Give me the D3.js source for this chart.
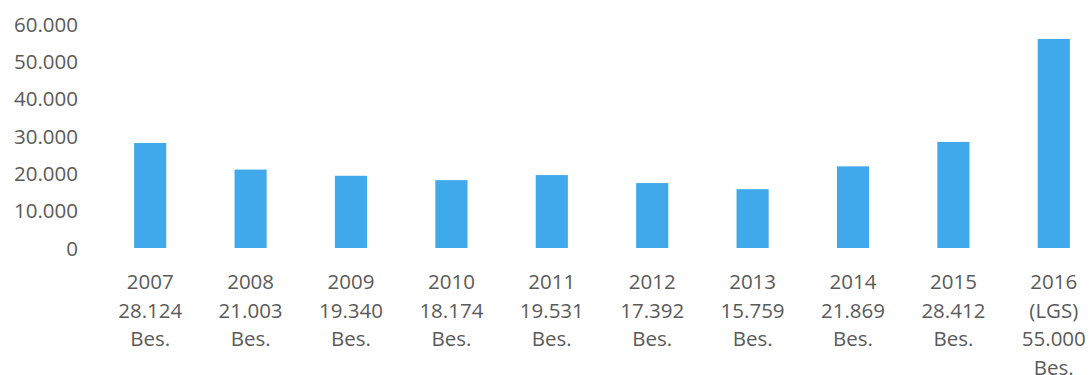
<!DOCTYPE html>
<html>
<head>
<meta charset="utf-8">
<script src="https://cdn.jsdelivr.net/npm/d3@7"></script>
<style>
  html, body { margin: 0; padding: 0; background: #fff; }
  svg text { font-family: 'Open Sans', sans-serif; fill: #5a5a5a; }
</style>
</head>
<body>
<svg id="chart" width="1090" height="375"></svg>
<script>
'use strict';

// chart data
const years = ['2007', '2008', '2009', '2010', '2011', '2012', '2013', '2014', '2015', '2016'];
const categoryLines = [
  ['2007', '28.124', 'Bes.'],
  ['2008', '21.003', 'Bes.'],
  ['2009', '19.340', 'Bes.'],
  ['2010', '18.174', 'Bes.'],
  ['2011', '19.531', 'Bes.'],
  ['2012', '17.392', 'Bes.'],
  ['2013', '15.759', 'Bes.'],
  ['2014', '21.869', 'Bes.'],
  ['2015', '28.412', 'Bes.'],
  ['2016', '(LGS)', '55.000', 'Bes.'],
];
// bar heights as drawn (the 2016 bar stands a bit above its 55.000 label)
const participants = [28124, 21003, 19340, 18174, 19531, 17392, 15759, 21869, 28412, 56000];
const yTicks = [0, 10000, 20000, 30000, 40000, 50000, 60000];

const BAR_COLOR = '#40a9eb';
const FONT_SIZE = 20.5;
const LINE_STEP = 28.6;

const svg = d3.select('#chart');

const x = d3.scaleBand()
  .domain(years)
  .range([100, 1104])
  .paddingInner(0.68)
  .paddingOuter(0.34);

const y = d3.scaleLinear()
  .domain([0, 60000])
  .range([248, 24]);

const fmt = (v) => d3.format(',')(v).replace(/,/g, '.');

// y axis: labels only, no line, no ticks
const yAxis = svg.append('g')
  .attr('transform', 'translate(78,0)')
  .call(d3.axisLeft(y).tickValues(yTicks).tickFormat(fmt).tickSize(0).tickPadding(0));
yAxis.select('.domain').remove();
yAxis.selectAll('text')
  .attr('font-size', FONT_SIZE)
  .attr('font-family', null)
  .attr('dy', '0.35em');

// bars
svg.append('g')
  .selectAll('rect')
  .data(participants)
  .join('rect')
  .attr('x', (d, i) => x(years[i]))
  .attr('y', (d) => y(d))
  .attr('width', x.bandwidth())
  .attr('height', (d) => y(0) - y(d))
  .attr('fill', BAR_COLOR);

// multi-line category labels
const xLabels = svg.append('g')
  .selectAll('text')
  .data(categoryLines)
  .join('text')
  .attr('text-anchor', 'middle')
  .attr('font-size', FONT_SIZE)
  .attr('transform', (d, i) => `translate(${x(years[i]) + x.bandwidth() / 2},282)`);

xLabels.selectAll('tspan')
  .data((d) => d)
  .join('tspan')
  .attr('x', 0)
  .attr('y', (d, i) => i * LINE_STEP)
  .attr('dy', '0.35em')
  .text((d) => d);
</script>
</body>
</html>
